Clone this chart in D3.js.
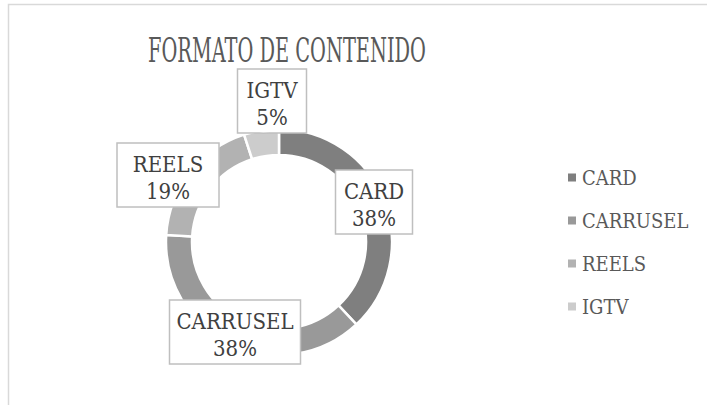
<!DOCTYPE html>
<html>
<head>
<meta charset="utf-8">
<script src="https://cdn.jsdelivr.net/npm/d3@7"></script>
<style>
  body { margin: 0; background: #fff; }
  svg { display: block; }
  text { font-family: "DejaVu Serif Condensed", "DejaVu Serif", serif; }
</style>
</head>
<body>
<svg></svg>
<script>
var width = 707;
var height = 405;

// chart data
var categories = ["CARD", "CARRUSEL", "REELS", "IGTV"];
var values = [38, 38, 19, 5];
var colors = ["#7f7f7f", "#999999", "#b2b2b2", "#cccccc"];
var title = "FORMATO DE CONTENIDO";

const svg = d3.select('svg')
    .attr('width', width)
    .attr('height', height);

// chart border
svg.append('rect')
    .attr('x', 8.5).attr('y', 4.5)
    .attr('width', width).attr('height', height)
    .attr('fill', 'none')
    .attr('stroke', '#d9d9d9')
    .attr('stroke-width', 1.5);

svg.append('text')
    .attr('x', 287).attr('y', 62)
    .attr('text-anchor', 'middle')
    .attr('font-size', 33)
    .attr('textLength', 278)
    .attr('lengthAdjust', 'spacingAndGlyphs')
    .attr('fill', '#595959')
    .text(title);

var cx = 279, cy = 242;
var outerR = 113, innerR = 87;

const pie = d3.pie().sort(null).value(d => d.value);
const arcs = pie(categories.map((c, i) => ({ name: c, value: values[i], color: colors[i] })));
const arc = d3.arc().innerRadius(innerR).outerRadius(outerR);

const g = svg.append('g').attr('transform', `translate(${cx}, ${cy})`);
g.selectAll('path')
    .data(arcs)
    .enter().append('path')
    .attr('d', arc)
    .attr('fill', d => d.data.color)
    .attr('stroke', '#fff')
    .attr('stroke-width', 2.5);

// data labels (box centers)
var labelPos = [[374, 202], [235, 332], [168, 175], [272, 101]];
var labelW = [77, 131, 102, 69];
var lblH = 64;

arcs.forEach(function(d, i) {
    var p = labelPos[i];
    var w = labelW[i];
    var x0 = p[0] - w / 2, y0 = p[1] - lblH / 2;
    var lg = svg.append('g');
    if (i == 3) {
        // callout with pointer toward the slice
        var a = arc.centroid(d);
        var tx = cx + a[0], ty = cy + a[1] - 10;
        var path = d3.path();
        path.moveTo(x0, y0);
        path.lineTo(x0 + w, y0);
        path.lineTo(x0 + w, y0 + lblH);
        path.lineTo(tx + 6, y0 + lblH);
        path.lineTo(tx, ty);
        path.lineTo(tx - 4, y0 + lblH);
        path.lineTo(x0, y0 + lblH);
        path.closePath();
        lg.append('path')
            .attr('d', path.toString())
            .attr('fill', '#fff')
            .attr('stroke', '#bfbfbf')
            .attr('stroke-width', 1.5);
    } else {
        lg.append('rect')
            .attr('x', x0).attr('y', y0)
            .attr('width', w).attr('height', lblH)
            .attr('fill', '#fff')
            .attr('stroke', '#bfbfbf')
            .attr('stroke-width', 1.5);
    }
    var pct = Math.round(100 * (d.endAngle - d.startAngle) / (2 * Math.PI)) + '%';
    lg.append('text')
        .attr('x', p[0]).attr('y', p[1] - 3)
        .attr('text-anchor', 'middle')
        .attr('font-size', 22)
        .attr('fill', '#404040')
        .text(d.data.name);
    lg.append('text')
        .attr('x', p[0]).attr('y', p[1] + 24)
        .attr('text-anchor', 'middle')
        .attr('font-size', 22)
        .attr('fill', '#404040')
        .text(pct);
});

// legend
const y = d3.scaleBand().domain(categories).range([156, 328]);
const legend = svg.selectAll('.legend')
    .data(categories)
    .enter().append('g')
    .attr('class', 'legend')
    .attr('transform', d => `translate(568, ${y(d) + y.bandwidth() / 2})`);
legend.append('rect')
    .attr('x', 0).attr('y', -4)
    .attr('width', 8).attr('height', 8)
    .attr('fill', (d, i) => colors[i]);
legend.append('text')
    .attr('x', 14).attr('y', 7)
    .attr('font-size', 20)
    .attr('fill', '#595959')
    .text(d => d);
</script>
</body>
</html>
